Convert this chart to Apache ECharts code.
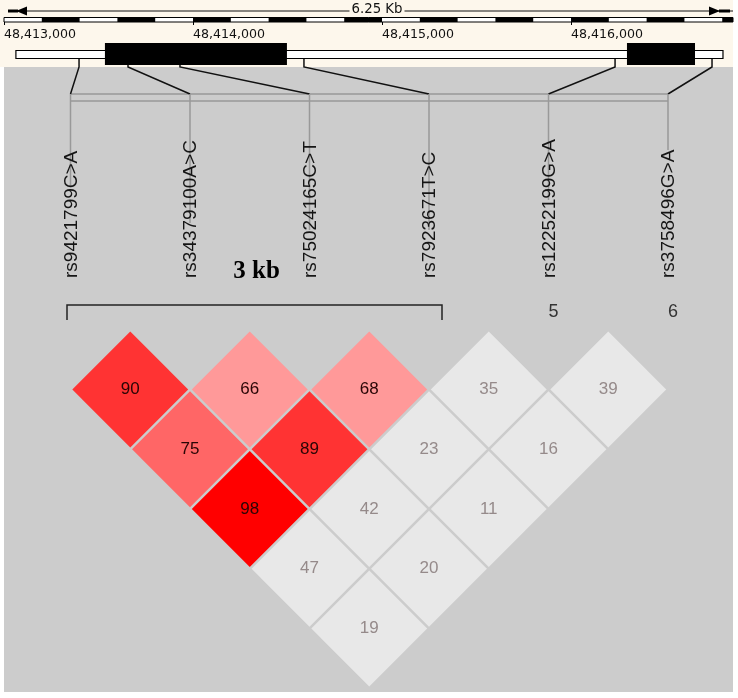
<!DOCTYPE html>
<html>
<head>
<meta charset="utf-8">
<script src="https://cdn.jsdelivr.net/npm/echarts@6/dist/echarts.min.js"></script>
<style>
  html, body { margin: 0; padding: 0; background: #fff; }
  #ldPlot { width: 738px; height: 698px; }
</style>
</head>
<body>
<div id="ldPlot"></div>
<script>
// markers
var snpNames = ['rs9421799C>A', 'rs34379100A>C', 'rs75024165C>T', 'rs7923671T>C', 'rs12252199G>A', 'rs3758496G>A']
var snpPositions = [48413397, 48413656, 48413931, 48414587, 48416233, 48416746]
// haplotype block
var blockMarkers = [0, 1, 2, 3]
var blockLabel = '3 kb'
// LD pairs (marker i, marker j) and D' x 100
var pairFirst = [0, 0, 0, 0, 0, 1, 1, 1, 1, 2, 2, 2, 3, 3, 4]
var pairSecond = [1, 2, 3, 4, 5, 2, 3, 4, 5, 3, 4, 5, 4, 5, 5]
var ldValues = [90, 75, 98, 47, 19, 66, 89, 42, 20, 68, 23, 11, 35, 16, 39]
var ldStrong = [1, 1, 1, 0, 0, 1, 1, 0, 0, 1, 0, 0, 0, 0, 0]
// gene track
var geneSpan = [48413063, 48416804]
var exonStarts = [48413534, 48416296]
var exonEnds = [48414497, 48416656]
var rulerTicks = [48413000, 48414000, 48415000, 48416000]
var rulerTitle = '6.25 Kb'

var rulerMin = rulerTicks[0]
var rulerMax = 48416857
var rulerStep = 200
// how far each marker's grey line reaches down (px)
var tickEnds = [187, 223, 230, 230, 200, 150]

var mychart = echarts.init(document.getElementById('ldPlot'), null, { renderer: 'canvas' })

function cellColor(v, strong) {
  if (!strong) return '#e8e8e8'
  if (v >= 95) return '#ff0000'
  if (v >= 80) return '#ff3333'
  if (v >= 70) return '#ff6666'
  return '#ff9999'
}

function genomeX(pos) {
  return mychart.convertToPixel({ xAxisIndex: 1 }, pos)
}

function renderCell(params, api) {
  var i = api.value(0)
  var j = api.value(1)
  var v = api.value(2)
  var s = api.value(3)
  var cx = (i + j) / 2
  var cy = (j - i) / 2
  var h = 0.485
  var pts = [
    api.coord([cx, cy - h]),
    api.coord([cx + h, cy]),
    api.coord([cx, cy + h]),
    api.coord([cx - h, cy]),
  ]
  var c = api.coord([cx, cy])
  return {
    type: 'group',
    children: [
      { type: 'polygon', shape: { points: pts }, style: { fill: cellColor(v, s) } },
      {
        type: 'text',
        x: c[0],
        y: c[1],
        style: {
          text: String(v),
          fill: s ? '#2a0505' : '#958a8a',
          font: '17px "Liberation Sans", Arial, sans-serif',
          align: 'center',
          verticalAlign: 'middle',
        },
      },
    ],
  }
}

function renderMarker(params, api) {
  var k = api.value(0)
  var x = api.coord([k, 0])[0]
  var children = []
  if (k === 0) {
    var xEnd = api.coord([snpNames.length - 1, 0])[0]
    children.push({ type: 'line', shape: { x1: x, y1: 94, x2: xEnd, y2: 94 }, style: { stroke: '#999', lineWidth: 1.5 } })
    children.push({ type: 'line', shape: { x1: x, y1: 101, x2: xEnd, y2: 101 }, style: { stroke: '#999', lineWidth: 1.5 } })
  }
  // connector from genomic position to marker column
  var gx = genomeX(snpPositions[k])
  children.push({
    type: 'polyline',
    shape: { points: [[gx, 58], [gx, 67], [x, 94]] },
    style: { stroke: '#111', lineWidth: 1.5, fill: null },
  })
  children.push({ type: 'line', shape: { x1: x, y1: 94, x2: x, y2: tickEnds[k] }, style: { stroke: '#999', lineWidth: 1.5 } })
  children.push({
    type: 'text',
    x: x + 1,
    y: 278,
    rotation: Math.PI / 2,
    style: {
      text: snpNames[k],
      fill: '#151515',
      font: '19px "Liberation Sans", Arial, sans-serif',
      align: 'left',
      verticalAlign: 'middle',
    },
  })
  if (blockMarkers.indexOf(k) < 0) {
    children.push({
      type: 'text',
      x: x + 5,
      y: 312,
      style: {
        text: String(k + 1),
        fill: '#333',
        font: '18px "Liberation Sans", Arial, sans-serif',
        align: 'center',
        verticalAlign: 'middle',
      },
    })
  }
  return { type: 'group', children: children }
}

function renderBlock(params, api) {
  var x0 = api.coord([api.value(0), 0])[0] - 3.5
  var x1 = api.coord([api.value(1), 0])[0] + 13
  return {
    type: 'group',
    children: [
      {
        type: 'polyline',
        shape: { points: [[x0, 320], [x0, 305], [x1, 305], [x1, 320]] },
        style: { stroke: '#222', lineWidth: 1.5, fill: null },
      },
      {
        type: 'text',
        x: (x0 + x1) / 2 + 2,
        y: 272,
        style: {
          text: blockLabel,
          fill: '#000',
          font: 'bold 25px "Liberation Serif", "Times New Roman", serif',
          align: 'center',
          verticalAlign: 'middle',
        },
      },
    ],
  }
}

function renderRuler(params, api) {
  var xa = api.coord([rulerMin, 0])[0]
  var xb = api.coord([rulerMax, 0])[0]
  var children = []
  // arrow line with title
  children.push({ type: 'line', shape: { x1: xa + 4, y1: 11, x2: xb, y2: 11 }, style: { stroke: '#111', lineWidth: 1.2 } })
  children.push({ type: 'line', shape: { x1: xa + 4, y1: 11, x2: xa + 14, y2: 11 }, style: { stroke: '#000', lineWidth: 3 } })
  children.push({ type: 'polygon', shape: { points: [[xa + 12, 11], [xa + 23, 6.5], [xa + 23, 15.5]] }, style: { fill: '#000' } })
  children.push({ type: 'line', shape: { x1: xb - 14, y1: 11, x2: xb - 3, y2: 11 }, style: { stroke: '#000', lineWidth: 3 } })
  children.push({ type: 'polygon', shape: { points: [[xb - 13, 11], [xb - 24, 6.5], [xb - 24, 15.5]] }, style: { fill: '#000' } })
  children.push({
    type: 'text',
    x: 377,
    y: 10,
    style: {
      text: rulerTitle,
      fill: '#111',
      font: '13.3px "DejaVu Sans", sans-serif',
      align: 'center',
      verticalAlign: 'middle',
      backgroundColor: '#fdf7ec',
      padding: [0, 2],
    },
  })
  // scale bar
  children.push({ type: 'rect', shape: { x: xa, y: 17.5, width: xb - xa, height: 4.5 }, style: { fill: '#fff', stroke: '#000', lineWidth: 1 } })
  for (var k = 1; rulerMin + k * rulerStep < rulerMax; k += 2) {
    var s = api.coord([rulerMin + k * rulerStep, 0])[0]
    var e = api.coord([Math.min(rulerMin + (k + 1) * rulerStep, rulerMax), 0])[0]
    children.push({ type: 'rect', shape: { x: s, y: 17.5, width: e - s, height: 4.5 }, style: { fill: '#000' } })
  }
  return { type: 'group', children: children }
}

function renderGene(params, api) {
  var g0 = api.coord([geneSpan[0], 0])[0]
  var g1 = api.coord([geneSpan[1], 0])[0]
  var children = [
    { type: 'rect', shape: { x: g0, y: 50.5, width: g1 - g0, height: 8 }, style: { fill: '#fff', stroke: '#000', lineWidth: 1.2 } },
  ]
  for (var k = 0; k < exonStarts.length; k++) {
    var s = api.coord([exonStarts[k], 0])[0]
    var e = api.coord([exonEnds[k], 0])[0]
    children.push({ type: 'rect', shape: { x: s, y: 43, width: e - s, height: 22 }, style: { fill: '#000' } })
  }
  return { type: 'group', children: children }
}

var cellData = pairFirst.map(function (a, k) {
  return [a, pairSecond[k], ldValues[k], ldStrong[k]]
})

mychart.setOption({
  animation: false,
  graphic: [
    { type: 'rect', z: -10, shape: { x: 0, y: 0, width: 733, height: 67 }, style: { fill: '#fdf7ec' } },
    { type: 'rect', z: -10, shape: { x: 4, y: 67, width: 729, height: 625 }, style: { fill: '#cccccc' } },
  ],
  grid: [
    { left: 70.5, width: 597.5, top: 329.75, height: 358.5, show: false },
    { left: 4, right: 5, top: 0, height: 25, show: false },
  ],
  xAxis: [
    { gridIndex: 0, type: 'value', min: 0, max: 5, show: false },
    {
      gridIndex: 1,
      type: 'value',
      min: rulerMin,
      max: rulerMax,
      interval: 1000,
      position: 'bottom',
      axisLine: { show: false },
      splitLine: { show: false },
      axisTick: { show: true, inside: true, length: 8, lineStyle: { color: '#000', width: 1 } },
      axisLabel: {
        show: true,
        align: 'left',
        margin: 3,
        color: '#111',
        fontSize: 12.6,
        fontFamily: 'DejaVu Sans',
        showMaxLabel: false,
        formatter: function (v) {
          return rulerTicks.indexOf(v) >= 0 ? v.toLocaleString('en-US') : ''
        },
      },
    },
  ],
  yAxis: [
    { gridIndex: 0, type: 'value', min: 0, max: 3, inverse: true, show: false },
    { gridIndex: 1, type: 'value', min: 0, max: 1, show: false },
  ],
  series: [
    { type: 'custom', name: 'ruler', xAxisIndex: 1, yAxisIndex: 1, clip: false, data: [[rulerMin, 0]], renderItem: renderRuler },
    {
      type: 'custom',
      name: 'markers',
      xAxisIndex: 0,
      yAxisIndex: 0,
      clip: false,
      data: snpNames.map(function (n, k) { return [k, 0] }),
      renderItem: renderMarker,
    },
    { type: 'custom', name: 'gene', xAxisIndex: 1, yAxisIndex: 1, clip: false, z: 5, data: [[geneSpan[0], 0]], renderItem: renderGene },
    {
      type: 'custom',
      name: 'block',
      xAxisIndex: 0,
      yAxisIndex: 0,
      clip: false,
      data: [[blockMarkers[0], blockMarkers[blockMarkers.length - 1]]],
      renderItem: renderBlock,
    },
    { type: 'custom', name: 'ld', xAxisIndex: 0, yAxisIndex: 0, clip: false, data: cellData, renderItem: renderCell },
  ],
})
</script>
</body>
</html>
